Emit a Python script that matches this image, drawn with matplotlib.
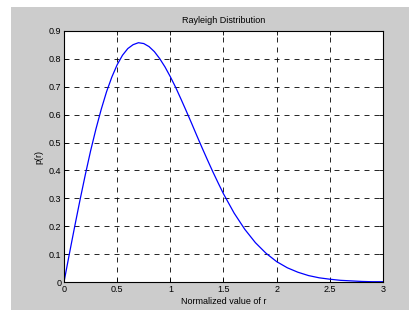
import matplotlib.pyplot as plt
from matplotlib.patches import Rectangle

plt.rcParams['font.family'] = ['Liberation Sans', 'DejaVu Sans']

# values
r = [0.0, 0.05, 0.1, 0.15, 0.2, 0.25, 0.3, 0.35, 0.4, 0.45, 0.5,
     0.55, 0.6, 0.65, 0.7, 0.75, 0.8, 0.85, 0.9, 0.95, 1.0,
     1.05, 1.1, 1.15, 1.2, 1.25, 1.3, 1.35, 1.4, 1.45, 1.5,
     1.6, 1.7, 1.8, 1.9, 2.0, 2.1, 2.2, 2.3, 2.4, 2.5,
     2.6, 2.7, 2.8, 2.9, 3.0]
p = [0.0, 0.100, 0.198, 0.293, 0.384, 0.470, 0.548, 0.619, 0.682, 0.735, 0.779,
     0.813, 0.837, 0.851, 0.858, 0.855, 0.844, 0.826, 0.801, 0.771, 0.736,
     0.698, 0.656, 0.613, 0.569, 0.524, 0.480, 0.437, 0.395, 0.355, 0.316,
     0.247, 0.189, 0.141, 0.103, 0.073, 0.051, 0.035, 0.023, 0.015, 0.010,
     0.006, 0.004, 0.002, 0.001, 0.001]
xticks = [0, 0.5, 1, 1.5, 2, 2.5, 3]
xticklabels = ["0", "0.5", "1", "1.5", "2", "2.5", "3"]
yticks = [0, 0.1, 0.2, 0.3, 0.4, 0.5, 0.6, 0.7, 0.8, 0.9]
yticklabels = ["0", "0.1", "0.2", "0.3", "0.4", "0.5", "0.6", "0.7", "0.8", "0.9"]

fig = plt.figure(figsize=(4.1, 3.1), dpi=100)
fig.patch.set_facecolor("white")
fig.add_artist(Rectangle((11 / 410, 0), 1 - 11 / 410, 1 - 7 / 310,
                         transform=fig.transFigure, facecolor="#cccccc",
                         edgecolor="none", zorder=-10))

ax = fig.add_axes([64 / 410, 28 / 310, 319 / 410, 251 / 310])
ax.set_facecolor("white")
ax.plot(r, p, color="#0000ff", linewidth=0.9)

ax.set_xlim(0, 3)
ax.set_ylim(0, 0.9)
ax.set_xticks(xticks)
ax.set_xticklabels(xticklabels)
ax.set_yticks(yticks)
ax.set_yticklabels(yticklabels)
ax.tick_params(direction="in", length=3, width=0.6, labelsize=6.5,
               top=True, right=True, pad=2, colors="black")
ax.grid(True, color="black", linestyle=(0, (6, 6)), linewidth=0.6)
for s in ax.spines.values():
    s.set_linewidth(0.8)

ax.set_title("Rayleigh Distribution", fontsize=6.5, pad=6)
ax.set_xlabel("Normalized value of r", fontsize=6.5, labelpad=2)
ax.set_ylabel("p(r)", fontsize=6.5, labelpad=4)

plt.savefig("out.png", dpi=100)
